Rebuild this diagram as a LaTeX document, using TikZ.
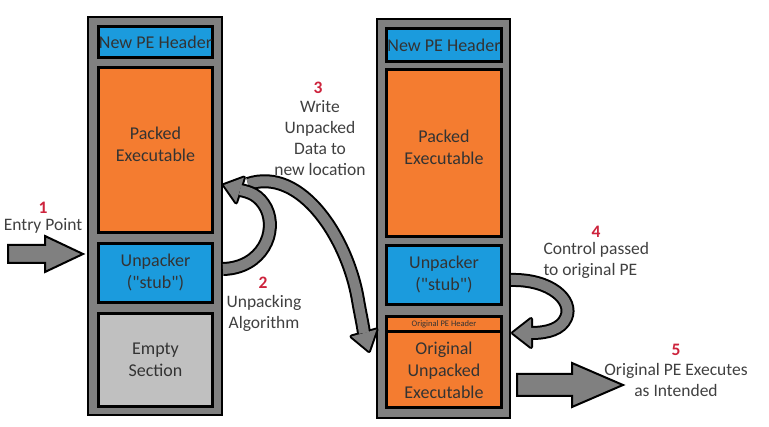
\documentclass[tikz,border=0pt]{standalone}
\usepackage{fontspec}
\setmainfont{Carlito}[Ligatures=TeXOff]

\definecolor{peorange}{RGB}{244,124,48}
\definecolor{peblue}{RGB}{27,155,221}
\definecolor{pegray}{RGB}{128,128,128}
\definecolor{pelight}{RGB}{192,192,192}
\definecolor{numred}{RGB}{205,35,60}
\definecolor{txtgray}{RGB}{64,64,64}

\tikzset{
  memcol/.style={draw=black, line width=2pt, fill=pegray, inner sep=0pt},
  part/.style={draw=black, line width=3pt, inner sep=0pt, align=center,
    text=black!80, font=\fontsize{18}{22}\selectfont},
  note/.style={align=center, text=txtgray, font=\fontsize{17.5}{21}\selectfont},
  num/.style={text=numred, font=\fontsize{17.5}{21}\selectfont\bfseries},
  bigarrow/.style={draw=black, line width=2pt, fill=pegray, line join=miter},
  band/.style={line width=10pt, draw=pegray, preaction={draw=black, line width=14pt}},
  headback/.style={fill=black, draw=black, line width=4pt, line join=round},
  headfill/.style={fill=pegray},
}

\begin{document}
\begin{tikzpicture}[x=1pt, y=-1pt]
\useasboundingbox (0,0) rectangle (769,427);

%packed file
\node[memcol, minimum width=134pt, minimum height=398pt] (outA) at (155,216) {};
\node[part, fill=peblue, minimum width=114pt, minimum height=31pt] (hdrA) at (155.5,42) {New PE Header};
\node[part, fill=peorange, minimum width=114pt, minimum height=165pt] (packA) at (155.5,150) {Packed\\Executable\\[-10pt]};
\node[part, fill=peblue, minimum width=114pt, minimum height=59pt] (stubA) at (155.5,273) {Unpacker\\("stub")};
\node[part, fill=pelight, minimum width=114pt, minimum height=93pt] (emptyA) at (155.5,360) {Empty\\Section};

%file after unpacking
\node[memcol, minimum width=133pt, minimum height=399pt] (outB) at (443.5,218.5) {};
\node[part, fill=peblue, minimum width=115pt, minimum height=33pt] (hdrB) at (444,45) {New PE Header};
\node[part, fill=peorange, minimum width=115pt, minimum height=167pt] (packB) at (444,153) {Packed\\Executable\\[-10pt]};
\node[part, fill=peblue, minimum width=115pt, minimum height=59pt] (stubB) at (444,275) {Unpacker\\("stub")};
\node[part, fill=peorange, minimum width=115pt, minimum height=15pt,
  font=\fontsize{8.5}{9}\selectfont] (ohdrB) at (444,324.5) {Original PE Header};
\node[part, fill=peorange, minimum width=115pt, minimum height=76pt] (origB) at (444,370) {Original\\Unpacked\\Executable};

%straight arrows
\draw[bigarrow] (8,245) -- (45,245) -- (45,236) -- (83,254) -- (45,272) -- (45,263) -- (8,263) -- cycle;
\draw[bigarrow] (517,374) -- (572,374) -- (572,363) -- (623,385) -- (572,407) -- (572,396) -- (517,396) -- cycle;

%curved arrows
\coordinate (s2) at ([yshift=4pt]outA.east |- stubA.east);
\coordinate (b2) at (240,190);
\coordinate (t2) at (224,185);
\coordinate (s3) at (248,184);
\coordinate (b3) at (364,333);
\coordinate (t3) at (369,351);
\coordinate (s4) at ([yshift=-5pt]outB.east |- stubB.east);
\coordinate (b4) at (531,333);
\coordinate (t4) at (513,333);

% 3: write data
\filldraw[headback] (t3) -- (376.5,329.5) -- (351.5,336.5) -- cycle;
\draw[band] (s3) .. controls (302,166) and (348,240) .. (358,300)
  .. controls (360,312) and (362,320) .. (b3);
\fill[headfill] (t3) -- (376.5,329.5) -- (351.5,336.5) -- cycle;

% 2: unpacking
\filldraw[headback] (t2) -- (243.9,177.6) -- (236.1,202.4) -- cycle;
\draw[band] (s2) .. controls (262,268) and (278,232) .. (266,208)
  .. controls (259,195) and (250,192) .. (b2);
\fill[headfill] (t2) -- (243.9,177.6) -- (236.1,202.4) -- cycle;

% 4: control passed
\filldraw[headback] (t4) -- (531,319) -- (531,347) -- cycle;
\draw[band] (s4) .. controls (550,279) and (574,300) .. (566,318)
  .. controls (561,329) and (548,333) .. (b4);
\fill[headfill] (t4) -- (531,319) -- (531,347) -- cycle;

%labels
\node[num] (n1) at (43,208) {1};
\node[note] (entrytxt) at (43,226) {Entry Point};
\node[num] (n2) at (263,283) {2};
\node[note] (algotxt) at (264,313) {Unpacking\\Algorithm};
\node[num] (n3) at (318,88) {3};
\node[note] (writetxt) at (320,138) {Write\\Unpacked\\Data to\\new location};
\node[num] (n4) at (596,232) {4};
\node[note, align=left, anchor=west] (ctrltxt) at (540,260) {Control passed\\to original PE};
\node[num] (n5) at (676,350) {5};
\node[note] (runtxt) at (676,380) {Original PE Executes\\as Intended};

\end{tikzpicture}
\end{document}
